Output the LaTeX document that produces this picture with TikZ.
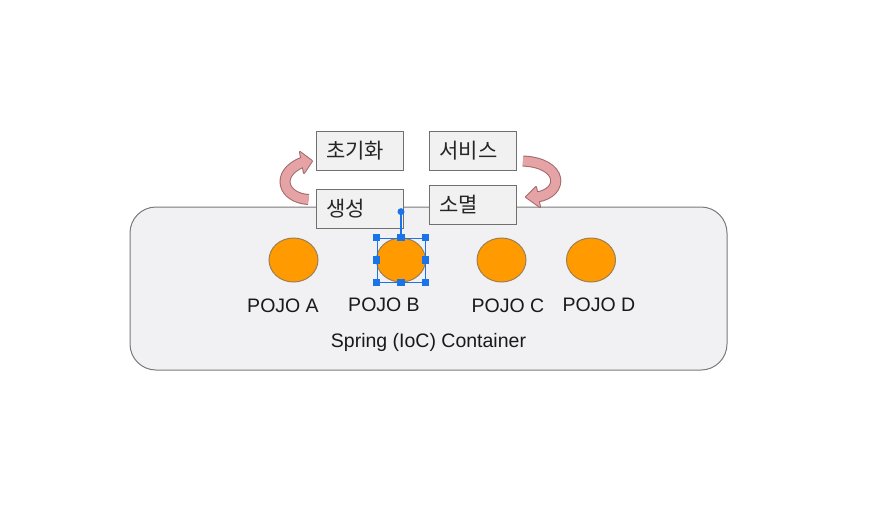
\documentclass[tikz,border=0pt]{standalone}
\usepackage{fontspec}
\setmainfont{Liberation Sans}
\newfontfamily\kr{Noto Sans CJK KR}
\usetikzlibrary{calc,shapes.geometric}
\definecolor{boxfill}{HTML}{F1F1F1}
\definecolor{boxline}{HTML}{707070}
\definecolor{iocfill}{HTML}{F1F0F3}
\definecolor{iocline}{HTML}{7A7A7A}
\definecolor{pojofill}{HTML}{FF9A00}
\definecolor{pojoline}{HTML}{9C7F58}
\definecolor{arrfill}{HTML}{E6A3A6}
\definecolor{arrline}{HTML}{A0676A}
\definecolor{selblue}{HTML}{1A73E8}
\tikzset{
    every picture/.style={line width=1pt},
    stagebox/.style={rectangle,draw=boxline,fill=boxfill,minimum height=39pt,
        text width=67pt,align=left,inner xsep=10pt,font=\kr\fontsize{21}{24}\selectfont,text=black!85},
    pojo/.style={ellipse,draw=pojoline,fill=pojofill,minimum width=49pt,minimum height=44pt,inner sep=0pt},
    pojolabel/.style={font=\fontsize{19.5}{22}\selectfont,text=black!90,anchor=base},
    arrbody/.style={draw=arrline,double=arrfill,double distance=9pt,line width=1pt},
    handle/.style={rectangle,fill=selblue,minimum size=7.5pt,inner sep=0pt}
}

\begin{document}
\begin{tikzpicture}[x=1pt,y=-1pt]
    \useasboundingbox[fill=white] (0,0) rectangle (871,512);
    % container
    \node[draw=iocline,fill=iocfill,rounded corners=26pt,minimum width=597pt,minimum height=163pt] (ioc) at (428.5,288.5) {};
    \node[pojolabel] (ioclabel) at (428.5,347) {Spring (IoC) Container};
    % lifecycle boxes
    \node[stagebox] (init) at (359.5,151) {초기화};
    \node[stagebox] (service) at (473,151) {서비스};
    \node[stagebox] (create) at (359.5,208.5) {생성};
    \node[stagebox] (destroy) at (473,204.5) {소멸};
    % create -> init
    \draw[arrline,fill=arrline,line width=2pt,line join=round] (300,152) -- (312,161) -- (304,173) -- cycle;
    \draw[arrbody] ($(create.west)+(-7,-9)$) .. controls (282,198) and (275,173) .. (303,162);
    \fill[arrfill] (300,152) -- (312,161) -- (304,173) -- cycle;
    % service -> destroy
    \draw[arrline,fill=arrline,line width=2pt,line join=round] (536,187) -- (526,197) -- (540,207) -- cycle;
    \draw[arrbody] ($(service.east)+(6,10)$) .. controls (564,163) and (564,193) .. (537,197);
    \fill[arrfill] (536,187) -- (526,197) -- (540,207) -- cycle;
    % pojos
    \node[pojo] (pojoA) at (293.5,260) {};
    \node[pojo] (pojoB) at (401,260) {};
    \node[pojo] (pojoC) at (501.5,260) {};
    \node[pojo] (pojoD) at (591,260) {};
    \node[pojolabel] (labA) at (283,312) {POJO A};
    \node[pojolabel] (labB) at (384,311) {POJO B};
    \node[pojolabel] (labC) at (508,312.5) {POJO C};
    \node[pojolabel] (labD) at (599,311) {POJO D};
    % selection on POJO B
    \node[draw=selblue,line width=0.7pt,minimum width=48pt,minimum height=44pt,inner sep=0pt] (selB) at (pojoB) {};
    \coordinate (rot) at ($(selB.north)+(0,-26)$);
    \draw[selblue,line width=1.2pt] (selB.north) -- (rot);
    \fill[selblue] (rot) circle (3.5pt);
    \foreach \a in {north west,north,north east,west,east,south west,south,south east}
        \node[handle] at (selB.\a) {};
\end{tikzpicture}
\end{document}
